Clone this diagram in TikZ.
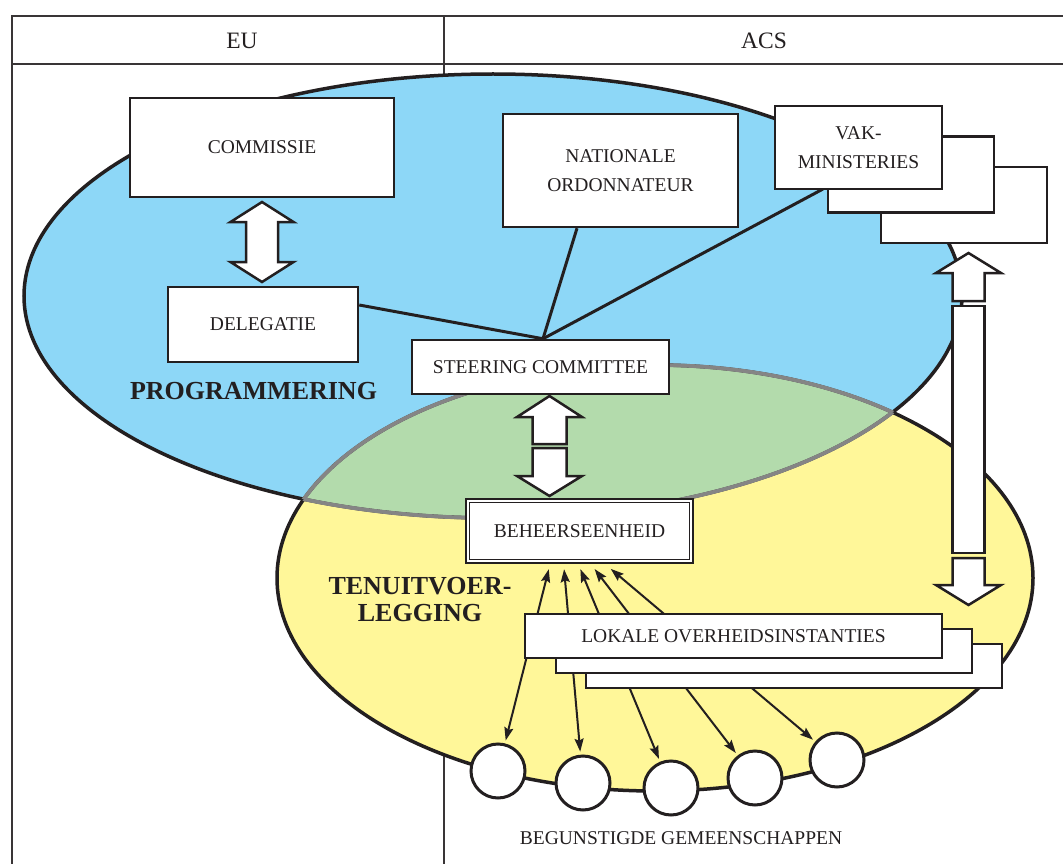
\documentclass[tikz,border=0pt]{standalone}
\usepackage{fontspec}
\setmainfont{Liberation Serif}
\usetikzlibrary{arrows.meta}
\definecolor{cblue}{HTML}{8DD7F7}
\definecolor{cyellow}{HTML}{FFF799}
\definecolor{cgreen}{HTML}{B3DBAC}
\definecolor{cgray}{HTML}{858585}
\definecolor{cink}{HTML}{231F20}
\newcommand\boxfont{\fontsize{19.5}{29}\selectfont}
\newcommand\bigfont{\fontsize{26}{27}\selectfont\bfseries}
\newcommand\hdrfont{\fontsize{23.5}{28}\selectfont}
% cx, tip, base, bottom, headhalf, shafthalf
\newcommand\upblock[6]{\draw[blockarr] (#1,#2) -- (#1+#5,#3) -- (#1+#6,#3) -- (#1+#6,#4) -- (#1-#6,#4) -- (#1-#6,#3) -- (#1-#5,#3) -- cycle;}
% cx, top, base, tip, headhalf, shafthalf
\newcommand\downblock[6]{\draw[blockarr] (#1,#4) -- (#1+#5,#3) -- (#1+#6,#3) -- (#1+#6,#2) -- (#1-#6,#2) -- (#1-#6,#3) -- (#1-#5,#3) -- cycle;}
% cx, toptip, topbase, botbase, bottip, headhalf, shafthalf
\newcommand\dblblock[7]{\draw[blockarr] (#1,#2) -- (#1+#6,#3) -- (#1+#7,#3) -- (#1+#7,#4) -- (#1+#6,#4) -- (#1,#5) -- (#1-#6,#4) -- (#1-#7,#4) -- (#1-#7,#3) -- (#1-#6,#3) -- cycle;}
\begin{document}
\begin{tikzpicture}[x=1pt,y=-1pt,
  frame/.style={draw=cink!90, line width=1.8pt},
  box/.style={draw=cink, fill=white, line width=2.5pt, inner sep=0pt, align=center, font=\boxfont, text=cink},
  conn/.style={draw=cink, line width=3pt},
  blockarr/.style={draw=cink, fill=white, line width=2.5pt, line join=miter},
  smallarr/.style={draw=cink, line width=2pt, {Stealth[length=13pt,width=9pt,inset=2pt]}-{Stealth[length=13pt,width=9pt,inset=2pt]}, shorten <=3pt, shorten >=1pt},
  comm/.style={circle, draw=cink, fill=white, line width=3pt, minimum size=54pt, inner sep=0pt},
  lbl/.style={text=cink, inner sep=0pt, align=center}]
\useasboundingbox (0,0) rectangle (1063,864);
\fill[white] (0,0) rectangle (1063,864);
% frame
\draw[frame] (12,864) -- (12,16) -- (1063,16);
\draw[frame] (12,64) -- (1063,64);
\draw[frame] (444,16) -- (444,864);
\node[lbl, font=\hdrfont] (eu) at (242,41) {EU};
\node[lbl, font=\hdrfont] (acs) at (764,41) {ACS};
% ellipses
\fill[cblue] (493,296) ellipse (469pt and 222pt);
\fill[cyellow] (655,578) ellipse (378pt and 213pt);
\begin{scope}
\clip (493,296) ellipse (469pt and 222pt);
\fill[cgreen] (655,578) ellipse (378pt and 213pt);
\end{scope}
\draw[cink, line width=3.5pt] (493,296) ellipse (469pt and 222pt);
\draw[cink, line width=3.5pt] (655,578) ellipse (378pt and 213pt);
\begin{scope}
\clip (493,296) ellipse (469pt and 222pt);
\draw[cgray, line width=3.8pt] (655,578) ellipse (378pt and 213pt);
\end{scope}
\begin{scope}
\clip (655,578) ellipse (378pt and 213pt);
\draw[cgray, line width=3.8pt] (493,296) ellipse (469pt and 222pt);
\end{scope}
% region labels
\node[lbl, font=\bigfont] (prog) at (253.5,391) {PROGRAMMERING};
\node[lbl, font=\bigfont] (tenu) at (420,600) {TENUITVOER-\\LEGGING};
% boxes positions (coordinates first for connectors)
\node[box, minimum width=257pt, minimum height=54pt] (steer) at (540.5,367) {STEERING COMMITTEE};
\node[box, minimum width=190pt, minimum height=75pt] (del) at (263,324.5) {DELEGATIE};
\node[box, minimum width=235pt, minimum height=113pt] (nat) at (620.5,170.5) {NATIONALE\\ORDONNATEUR};
% connectors from steering committee
\draw[conn] ([yshift=19.5pt]del.east) -- ([xshift=2.5pt]steer.north);
\draw[conn] ([xshift=-43.5pt]nat.south) -- ([xshift=2.5pt]steer.north);
\coordinate (vakfoot) at (823,189);
\draw[conn] ([xshift=2.5pt]steer.north) -- (vakfoot);
% redraw boxes above connectors
\node[box, minimum width=257pt, minimum height=54pt] at (steer) {STEERING COMMITTEE};
\node[box, minimum width=264pt, minimum height=99pt] (com) at (262,147.5) {COMMISSIE};
\node[box, minimum width=166pt, minimum height=76pt] (vak3) at (964,205) {};
\node[box, minimum width=166pt, minimum height=76pt] (vak2) at (911,174.5) {};
\node[box, minimum width=167pt, minimum height=83pt] (vak1) at (858.5,147.5) {VAK-\\MINISTERIES};
% beheerseenheid (double frame)
\node[box, minimum width=227pt, minimum height=64pt] (beh) at (579.5,531) {BEHEERSEENHEID};
\draw[cink, line width=1.3pt] ([shift={(5,5)}]beh.north west) rectangle ([shift={(-5,-5)}]beh.south east);
% block arrows
\dblblock{262}{202}{222}{262}{282}{31.5}{16}
\upblock{549.5}{396}{417}{444}{32.5}{17}
\downblock{549.5}{448}{476}{496}{32.5}{17}
\upblock{968.5}{253}{273}{301}{32.5}{16}
\draw[blockarr] (952.5,306) rectangle (984.5,553);
\downblock{968.5}{558}{585}{605}{32.5}{16}
% beneficiary communities
\node[comm] (c1) at (498,771) {};
\node[comm] (c2) at (583,783) {};
\node[comm] (c3) at (671,788) {};
\node[comm] (c4) at (755,778) {};
\node[comm] (c5) at (837,760) {};
\node[lbl, font=\boxfont] (begun) at (681,838) {BEGUNSTIGDE GEMEENSCHAPPEN};
% small arrows between communities and beheerseenheid
\draw[smallarr] (c1) -- ([xshift=-30.5pt,yshift=-4pt]beh.south);
\draw[smallarr] (c2) -- ([xshift=-15.5pt,yshift=-4pt]beh.south);
\draw[smallarr] (c3) -- ([xshift=0.5pt,yshift=-4pt]beh.south);
\draw[smallarr] (c4) -- ([xshift=14.5pt,yshift=-4pt]beh.south);
\draw[smallarr] (c5) -- ([xshift=30.5pt,yshift=-4pt]beh.south);
% local authorities stack
\node[box, minimum width=416pt, minimum height=44pt] (lok3) at (794,666) {};
\node[box, minimum width=416pt, minimum height=44pt] (lok2) at (764,651) {};
\node[box, minimum width=417pt, minimum height=44pt] (lok1) at (733.5,636) {LOKALE OVERHEIDSINSTANTIES};
\end{tikzpicture}
\end{document}
